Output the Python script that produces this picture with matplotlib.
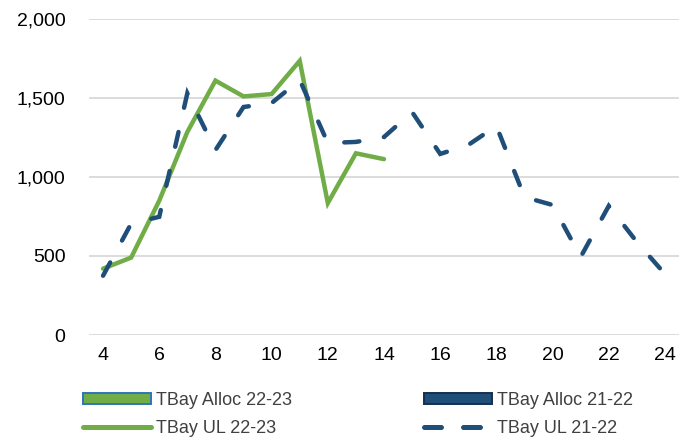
import matplotlib
matplotlib.use("Agg")
import matplotlib.pyplot as plt
from matplotlib.patches import Patch
from matplotlib.lines import Line2D
from matplotlib.ticker import FuncFormatter

plt.rcParams['font.family'] = ['Liberation Sans', 'DejaVu Sans']

weeks_2223 = [4, 5, 6, 7, 8, 9, 10, 11, 12, 13, 14]
ul_2223 = [420, 490, 850, 1285, 1610, 1510, 1525, 1735, 835, 1150, 1113]

weeks_2122 = list(range(4, 25))
ul_2122 = [375, 705, 748, 1530, 1170, 1443, 1468, 1614, 1215, 1222, 1253,
           1411, 1146, 1203, 1323, 873, 823, 494, 817, 589, 386]

x_ticks = [4, 6, 8, 10, 12, 14, 16, 18, 20, 22, 24]
y_ticks = [0, 500, 1000, 1500, 2000]

green = '#70AD47'
blue = '#1F4E79'

fig = plt.figure(figsize=(6.91, 4.37), dpi=100)
ax = fig.add_axes([89/691, 1 - 335/437, (679-89)/691, (335-19)/437])

ax.plot(weeks_2223, ul_2223, color=green, lw=3.2, solid_capstyle='round',
        solid_joinstyle='miter', zorder=3)
ax.plot(weeks_2122, ul_2122, color=blue, lw=3.2, dashes=(3.4, 5.6),
        dash_capstyle='round', dash_joinstyle='miter', zorder=4)

ax.set_xlim(3.5, 24.5)
ax.set_ylim(0, 2000)
ax.set_xticks(x_ticks)
ax.set_yticks(y_ticks)
ax.yaxis.set_major_formatter(FuncFormatter(lambda v, p: f"{int(v):,}"))
ax.grid(axis='y', color='#D9D9D9', lw=1.3)
ax.set_axisbelow(True)
for s in ax.spines.values():
    s.set_visible(False)
ax.tick_params(length=0, labelsize=14, colors='#000000', pad=9)
ax.tick_params(axis='y', pad=17)

handles = [
    Patch(facecolor=green, edgecolor='#2E75B6', lw=1.4, label='TBay Alloc 22-23'),
    Patch(facecolor=blue, edgecolor='#14304F', lw=1.4, label='TBay Alloc 21-22'),
    Line2D([], [], color=green, lw=3.6, solid_capstyle='round', label='TBay UL 22-23'),
    Line2D([], [], color=blue, lw=3.6, dashes=(3.4, 4.4), dash_capstyle='round', label='TBay UL 21-22'),
]
order = [0, 2, 1, 3]
leg = fig.legend([handles[i] for i in order], [handles[i].get_label() for i in order],
                 ncol=2, loc='upper left', bbox_to_anchor=(83/691, 1 - 392/437),
                 frameon=False, fontsize=13, handlelength=3.75, handleheight=0.62,
                 handletextpad=0.3, columnspacing=7.3, labelspacing=0.6,
                 borderpad=0, borderaxespad=0)
for t in leg.get_texts():
    t.set_color('#404040')

fig.savefig('out.png', dpi=100)
